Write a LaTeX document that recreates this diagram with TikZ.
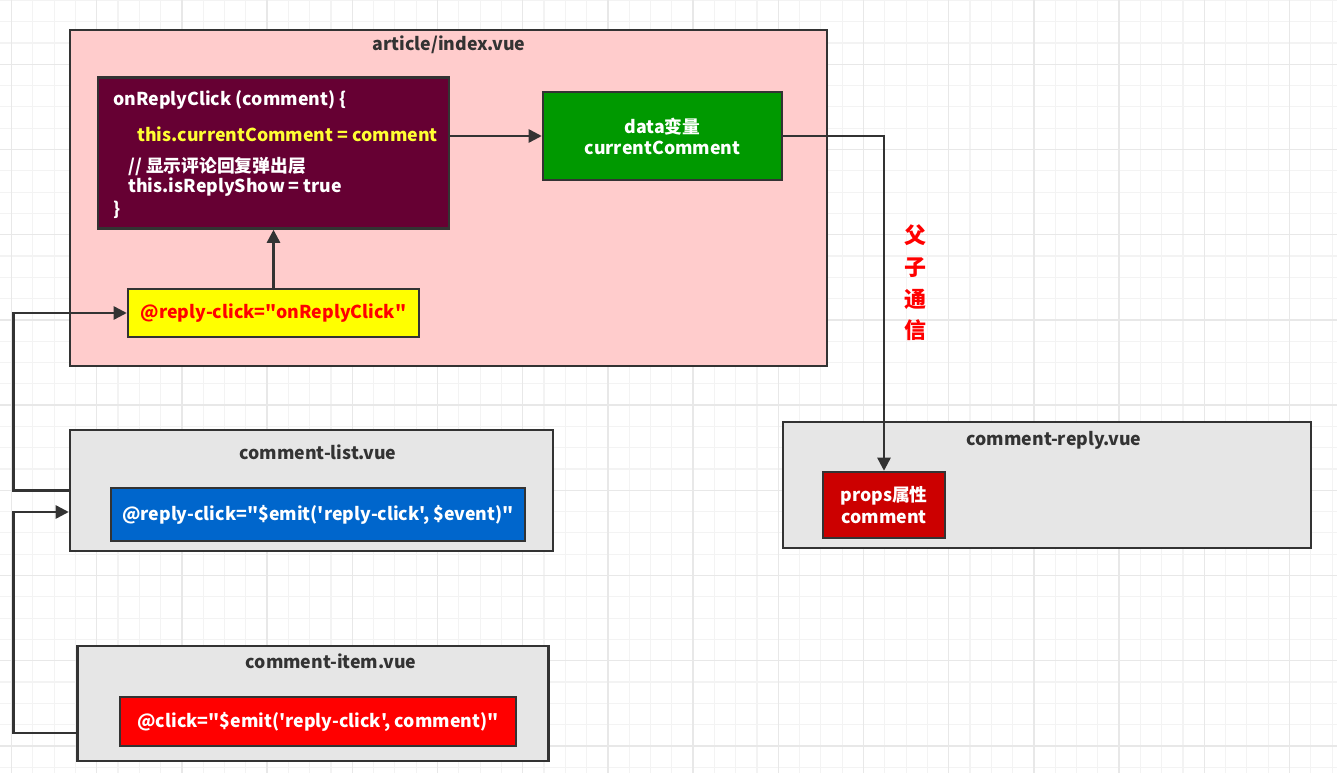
\documentclass[tikz,border=0pt]{standalone}
\usepackage{fontspec}
\setmainfont{Noto Sans CJK SC}[Ligatures=TeXOff]
\usetikzlibrary{positioning,calc,arrows.meta}
\definecolor{linegray}{HTML}{333333}
\definecolor{pinkbg}{HTML}{FFCCCC}
\definecolor{maroon}{HTML}{660033}
\definecolor{datagreen}{HTML}{009900}
\definecolor{hlyellow}{HTML}{FFFF00}
\definecolor{codeyellow}{HTML}{FFFF33}
\definecolor{compgray}{HTML}{E6E6E6}
\definecolor{emitblue}{HTML}{0066CC}
\definecolor{emitred}{HTML}{FF0000}
\definecolor{propsred}{HTML}{CC0000}
\definecolor{minorline}{HTML}{F3F3F3}
\definecolor{majorline}{HTML}{E8E8E8}
\newcommand{\pxu}{0.02cm}
\tikzstyle{box} = [draw=linegray, line width=1.4pt, rectangle, inner sep=0pt, align=center, font=\bfseries\fontsize{10.1}{12}\selectfont]
\tikzstyle{title} = [text=linegray, inner sep=0pt, font=\bfseries\fontsize{10.1}{12}\selectfont]
\tikzstyle{code} = [anchor=west, inner sep=0pt, text=white, font=\bfseries\fontsize{10.1}{12}\selectfont]
\tikzstyle{edge} = [-{Triangle[length=7.5pt,width=7.5pt]}, draw=linegray, line width=1.4pt]

\begin{document}
\begin{tikzpicture}[x=0.02cm, y=-0.02cm]
	\useasboundingbox (0,0) rectangle (1337,773);
	% background grid
	\foreach \i in {0,...,63} \draw[minorline, line width=0.6pt] ({-9.8+21.3*\i},0) -- ({-9.8+21.3*\i},773);
	\foreach \i in {0,...,37} \draw[minorline, line width=0.6pt] (0,{0.4+21.3*\i}) -- (1337,{0.4+21.3*\i});
	\foreach \i in {0,...,15} \draw[majorline, line width=0.8pt] ({11.5+85.2*\i},0) -- ({11.5+85.2*\i},773);
	\foreach \i in {0,...,9} \draw[majorline, line width=0.8pt] (0,{64.3+85.2*\i}) -- (1337,{64.3+85.2*\i});

	% article/index.vue
	\node[box, fill=pinkbg, minimum width=757*\pxu, minimum height=336*\pxu] (article) at (448.5, 198) {};
	\node[title] (articlet) at (449, 45) {article/index.vue};
	\node[box, fill=maroon, minimum width=351*\pxu, minimum height=151*\pxu] (method) at (273.5, 153) {};
	\node[code] (m1) at (113, 99.5) {onReplyClick (comment) \{};
	\node[code, text=codeyellow] (m2) at (137, 134) {this.currentComment = comment};
	\node[code] (m3) at (128, 166.5) {// 显示评论回复弹出层};
	\node[code] (m4) at (128, 187.5) {this.isReplyShow = true};
	\node[code] (m5) at (113, 209.5) {\}};
	\node[box, fill=datagreen, text=white, minimum width=239*\pxu, minimum height=88*\pxu] (data) at (662.5, 136) {data变量\\currentComment};
	\node[box, fill=hlyellow, text=emitred, minimum width=291*\pxu, minimum height=48*\pxu] (handler) at (273.5, 313) {\raisebox{-2pt}{@reply-click="onReplyClick"}};

	% comment-list.vue
	\node[box, fill=compgray, minimum width=483*\pxu, minimum height=121*\pxu] (list) at (311.5, 490.5) {};
	\node[title] (listt) at (318, 452) {comment-list.vue};
	\node[box, fill=emitblue, text=white, minimum width=414*\pxu, minimum height=53*\pxu] (listemit) at (318, 514.5) {\raisebox{-1pt}{@reply-click="\$emit('reply-click', \$event)"}};

	% comment-item.vue
	\node[box, fill=compgray, minimum width=471*\pxu, minimum height=115*\pxu] (item) at (313, 703.5) {};
	\node[title] (itemt) at (331, 661) {comment-item.vue};
	\node[box, fill=emitred, text=white, minimum width=396*\pxu, minimum height=49*\pxu] (itememit) at (318, 721.5) {\raisebox{-1.5pt}{@click="\$emit('reply-click', comment)"}};

	% comment-reply.vue
	\node[box, fill=compgray, minimum width=528*\pxu, minimum height=126*\pxu] (reply) at (1047, 485) {};
	\node[title] (replyt) at (1054, 440) {comment-reply.vue};
	\node[box, fill=propsred, text=white, minimum width=122*\pxu, minimum height=66*\pxu] (props) at (884, 505) {props属性\\comment};

	\node[text=emitred, inner sep=0pt, align=center, font=\bfseries\fontsize{12.5}{18}\selectfont] (fztx) at (915, 283) {父\\子\\通\\信};

	% connectors
	\coordinate (leftrail) at (13.5, 0);
	\coordinate (itemout) at ($(item.west)+(0,29.5)$);
	\coordinate (listin) at ($(list.west)+(0,21.5)$);
	\draw[edge] (method.east |- data.west) -- (data.west);
	\draw[edge] (handler.north) -- (method.south);
	\draw[edge] (data.east) -| (props.north);
	\draw[edge] (list.west) -- (list.west -| leftrail) |- (handler.west);
	\draw[edge] (itemout) -- (itemout -| leftrail) |- (listin);
\end{tikzpicture}
\end{document}
